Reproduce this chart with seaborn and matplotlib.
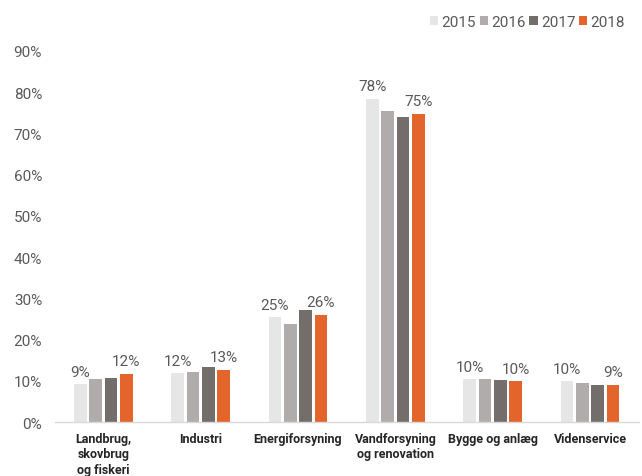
import numpy as np
import pandas as pd
import matplotlib
matplotlib.use("Agg")
import matplotlib.pyplot as plt
import matplotlib.ticker as mtick
import seaborn as sns

# ─── Data ─────────────────────────────────────────────────────────────────────
CATEGORIES = ["Landbrug,\nskovbrug\nog fiskeri", "Industri", "Energiforsyning",
              "Vandforsyning\nog renovation", "Bygge og anlæg", "Videnservice"]
YEARS = ["2015", "2016", "2017", "2018"]
V2015 = [0.092, 0.118, 0.254, 0.784, 0.104, 0.099]
V2016 = [0.104, 0.121, 0.238, 0.755, 0.104, 0.095]
V2017 = [0.108, 0.133, 0.272, 0.740, 0.103, 0.091]
V2018 = [0.117, 0.127, 0.260, 0.748, 0.099, 0.090]
LABELLED = ["2015", "2018"]

COLORS = ["#E6E6E6", "#AFACAB", "#736E6C", "#E4652C"]

df = pd.DataFrame({
    "Sektor": CATEGORIES * 4,
    "År": [y for y in YEARS for _ in CATEGORIES],
    "Andel": V2015 + V2016 + V2017 + V2018,
})

# ─── Plot ─────────────────────────────────────────────────────────────────────
sns.set_theme(style="white")
plt.rcParams["font.family"] = ["Roboto", "DejaVu Sans"]

fig = plt.figure(figsize=(6.42, 4.77), dpi=100)
ax = fig.add_axes([0.085, 0.113, 0.910, 0.778])

sns.barplot(data=df, x="Sektor", y="Andel", hue="År", hue_order=YEARS,
            palette=COLORS, width=0.63, gap=0.17, saturation=1,
            edgecolor="none", ax=ax, legend=True)

# data labels only for first and last year
for cont, year in zip(ax.containers, YEARS):
    if year not in LABELLED:
        continue
    for bar in cont:
        h = bar.get_height()
        ax.annotate(f"{h*100:.0f}%", (bar.get_x() + bar.get_width() / 2, h),
                    xytext=(0, 4), textcoords="offset points",
                    ha="center", va="bottom", fontsize=11, color="#595959")

ax.set_ylim(0, 0.9)
ax.set_yticks(np.arange(0, 0.91, 0.1))
ax.yaxis.set_major_formatter(mtick.PercentFormatter(1.0, decimals=0))
ax.tick_params(axis="y", labelsize=11, labelcolor="#595959", length=0, pad=9)
ax.tick_params(axis="x", labelsize=9, labelcolor="#262626", length=0, pad=7)
for lbl in ax.get_xticklabels():
    lbl.set_fontweight("bold")
    lbl.set_linespacing(1.25)
ax.set_xlabel(""); ax.set_ylabel("")
ax.set_xlim(-0.5, len(CATEGORIES) - 0.5)

for side in ["top", "right", "left"]:
    ax.spines[side].set_visible(False)
ax.spines["bottom"].set_color("#D9D9D9")
ax.spines["bottom"].set_linewidth(1)

handles, labels = ax.get_legend_handles_labels()
ax.legend(handles, labels, loc="upper right", bbox_to_anchor=(1.0, 1.135),
          ncol=4, frameon=False, fontsize=11, handlelength=0.55,
          handleheight=0.55, handletextpad=0.2, columnspacing=0.25,
          labelcolor="#595959")

fig.savefig("out.png", dpi=100)
